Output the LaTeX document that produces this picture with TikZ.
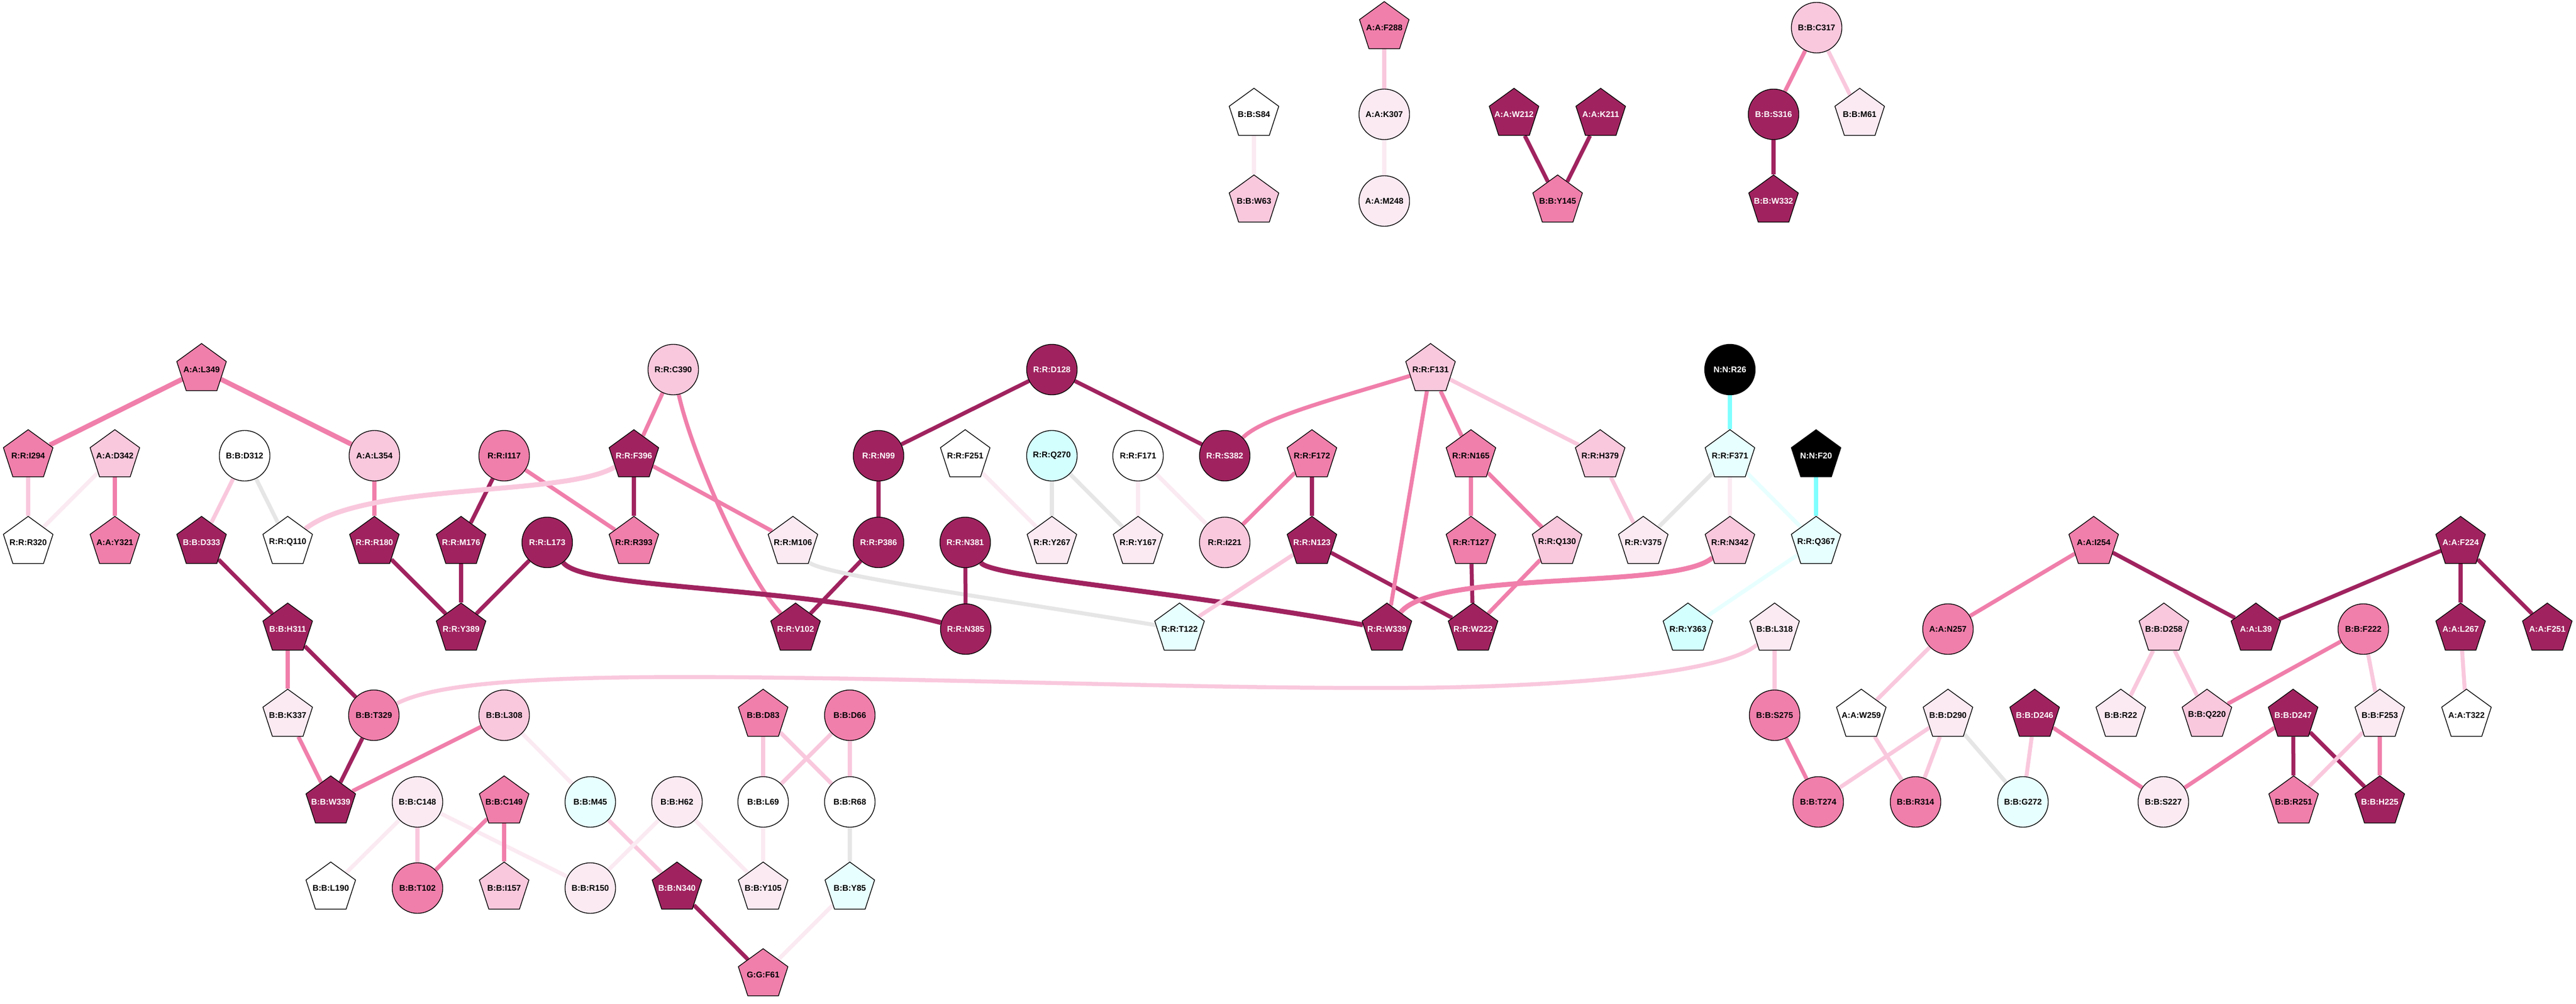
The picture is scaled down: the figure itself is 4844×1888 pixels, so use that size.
\documentclass[tikz,border=0pt]{standalone}
\usepackage{fontspec}
\setmainfont{Liberation Sans}
\usetikzlibrary{shapes.geometric}
\pgfdeclarelayer{bg}
\pgfsetlayers{bg,main}
\definecolor{cD}{HTML}{A0235F}
\definecolor{cM}{HTML}{F07FAB}
\definecolor{cL}{HTML}{F9C8DD}
\definecolor{cV}{HTML}{FBEAF2}
\definecolor{cC}{HTML}{D4FFFF}
\definecolor{cCV}{HTML}{E8FFFF}
\definecolor{cG}{HTML}{E6E6E6}
\definecolor{cCy}{HTML}{80FFFF}
\newcommand{\lbx}[1]{\makebox[0pt]{#1}}
\tikzset{
  nd/.style={draw=black, line width=0.7pt, inner sep=0pt, font=\bfseries\fontsize{7.8}{8}\selectfont, text=black},
  pent/.style={nd, regular polygon, regular polygon sides=5, minimum size=49pt},
  circ/.style={nd, circle, minimum size=47.5pt},
  fD/.style={fill=cD, text=white},
  fM/.style={fill=cM},
  fL/.style={fill=cL},
  fV/.style={fill=cV},
  fW/.style={fill=white},
  fC/.style={fill=cC},
  fCV/.style={fill=cCV},
  fK/.style={fill=black, text=white},
  ed/.style={line width=3.75pt},
  eD/.style={ed, draw=cD},
  eM/.style={ed, draw=cM},
  eL/.style={ed, draw=cL},
  eV/.style={ed, draw=cV},
  eG/.style={ed, draw=cG},
  eCy/.style={ed, draw=cCy},
  eCV/.style={ed, draw=cCV},
  wide/.style={line width=4.6pt}
}
\begin{document}
\begin{tikzpicture}[x=0.5pt, y=-0.5pt]
\useasboundingbox (0,0) rectangle (4844,1888);
% top group
\node[pent,fM]  (AF288) at (2603,52)  {\lbx{A:A:F288}};
\node[circ,fL]  (BC317) at (3416,52)  {\lbx{B:B:C317}};
\node[pent,fW]  (BS84)  at (2358,215) {\lbx{B:B:S84}};
\node[circ,fV]  (AK307) at (2603,215) {\lbx{A:A:K307}};
\node[pent,fD]  (AW212) at (2847,215) {\lbx{A:A:W212}};
\node[pent,fD]  (AK211) at (3010,215) {\lbx{A:A:K211}};
\node[circ,fD]  (BS316) at (3335,215) {\lbx{B:B:S316}};
\node[pent,fV]  (BM61)  at (3497,215) {\lbx{B:B:M61}};
\node[pent,fL]  (BW63)  at (2358,378) {\lbx{B:B:W63}};
\node[circ,fV]  (AM248) at (2603,378) {\lbx{A:A:M248}};
\node[pent,fM]  (BY145) at (2929,378) {\lbx{B:B:Y145}};
\node[pent,fD]  (BW332) at (3335,378) {\lbx{B:B:W332}};
% row 695
\node[pent,fM]  (AL349) at (379,695)  {\lbx{A:A:L349}};
\node[circ,fL]  (RC390) at (1266,695) {\lbx{R:R:C390}};
\node[circ,fD]  (RD128) at (1978,695) {\lbx{R:R:D128}};
\node[pent,fL]  (RF131) at (2690,695) {\lbx{R:R:F131}};
\node[circ,fK]  (NR26)  at (3253,695) {\lbx{N:N:R26}};
% row 857
\node[pent,fM]  (RI294) at (53,857)   {\lbx{R:R:I294}};
\node[pent,fL]  (AD342) at (216,857)  {\lbx{A:A:D342}};
\node[circ,fW]  (BD312) at (460,857)  {\lbx{B:B:D312}};
\node[circ,fL]  (AL354) at (704,857)  {\lbx{A:A:L354}};
\node[circ,fM]  (RI117) at (948,857)  {\lbx{R:R:I117}};
\node[pent,fD]  (RF396) at (1192,857) {\lbx{R:R:F396}};
\node[circ,fD]  (RN99)  at (1652,857) {\lbx{R:R:N99}};
\node[pent,fW]  (RF251) at (1815,857) {\lbx{R:R:F251}};
\node[circ,fC]  (RQ270) at (1978,857) {\lbx{R:R:Q270}};
\node[circ,fW]  (RF171) at (2140,857) {\lbx{R:R:F171}};
\node[circ,fD]  (RS382) at (2303,857) {\lbx{R:R:S382}};
\node[pent,fM]  (RF172) at (2467,857) {\lbx{R:R:F172}};
\node[pent,fM]  (RN165) at (2766,857) {\lbx{R:R:N165}};
\node[pent,fL]  (RH379) at (3009,857) {\lbx{R:R:H379}};
\node[pent,fCV] (RF371) at (3253,857) {\lbx{R:R:F371}};
\node[pent,fK]  (NF20)  at (3415,857) {\lbx{N:N:F20}};
% row 1020
\node[pent,fW]  (RR320) at (53,1020)   {\lbx{R:R:R320}};
\node[pent,fM]  (AY321) at (216,1020)  {\lbx{A:A:Y321}};
\node[pent,fD]  (BD333) at (379,1020)  {\lbx{B:B:D333}};
\node[pent,fW]  (RQ110) at (541,1020)  {\lbx{R:R:Q110}};
\node[pent,fD]  (RR180) at (704,1020)  {\lbx{R:R:R180}};
\node[pent,fD]  (RM176) at (867,1020)  {\lbx{R:R:M176}};
\node[circ,fD]  (RL173) at (1029,1020) {\lbx{R:R:L173}};
\node[pent,fM]  (RR393) at (1192,1020) {\lbx{R:R:R393}};
\node[pent,fV]  (RM106) at (1491,1020) {\lbx{R:R:M106}};
\node[circ,fD]  (RP386) at (1652,1020) {\lbx{R:R:P386}};
\node[circ,fD]  (RN381) at (1815,1020) {\lbx{R:R:N381}};
\node[pent,fV]  (RY267) at (1978,1020) {\lbx{R:R:Y267}};
\node[pent,fV]  (RY167) at (2140,1020) {\lbx{R:R:Y167}};
\node[circ,fL]  (RI221) at (2303,1020) {\lbx{R:R:I221}};
\node[pent,fD]  (RN123) at (2467,1020) {\lbx{R:R:N123}};
\node[pent,fM]  (RT127) at (2766,1020) {\lbx{R:R:T127}};
\node[pent,fL]  (RQ130) at (2928,1020) {\lbx{R:R:Q130}};
\node[pent,fV]  (RV375) at (3090,1020) {\lbx{R:R:V375}};
\node[pent,fL]  (RN342) at (3253,1020) {\lbx{R:R:N342}};
\node[pent,fCV] (RQ367) at (3415,1020) {\lbx{R:R:Q367}};
\node[pent,fM]  (AI254) at (3937,1020) {\lbx{A:A:I254}};
\node[pent,fD]  (AF224) at (4627,1020) {\lbx{A:A:F224}};
% row 1183
\node[pent,fD]  (BH311) at (541,1183)  {\lbx{B:B:H311}};
\node[pent,fD]  (RY389) at (867,1183)  {\lbx{R:R:Y389}};
\node[pent,fD]  (RV102) at (1496,1183) {\lbx{R:R:V102}};
\node[circ,fD]  (RN385) at (1816,1183) {\lbx{R:R:N385}};
\node[pent,fCV] (RT122) at (2218,1183) {\lbx{R:R:T122}};
\node[pent,fD]  (RW339) at (2608,1183) {\lbx{R:R:W339}};
\node[pent,fD]  (RW222) at (2770,1183) {\lbx{R:R:W222}};
\node[pent,fC]  (RY363) at (3174,1183) {\lbx{R:R:Y363}};
\node[pent,fV]  (BL318) at (3337,1183) {\lbx{B:B:L318}};
\node[circ,fM]  (AN257) at (3663,1183) {\lbx{A:A:N257}};
\node[pent,fL]  (BD258) at (4069,1183) {\lbx{B:B:D258}};
\node[pent,fD]  (AL39)  at (4242,1183) {\lbx{A:A:L39}};
\node[circ,fM]  (BF222) at (4444,1183) {\lbx{B:B:F222}};
\node[pent,fD]  (AL267) at (4627,1183) {\lbx{A:A:L267}};
\node[pent,fD]  (AF251) at (4790,1183) {\lbx{A:A:F251}};
% row 1345
\node[pent,fV]  (BK337) at (541,1345)  {\lbx{B:B:K337}};
\node[circ,fM]  (BT329) at (703,1345)  {\lbx{B:B:T329}};
\node[circ,fL]  (BL308) at (948,1345)  {\lbx{B:B:L308}};
\node[pent,fM]  (BD83)  at (1435,1345) {\lbx{B:B:D83}};
\node[circ,fM]  (BD66)  at (1598,1345) {\lbx{B:B:D66}};
\node[circ,fM]  (BS275) at (3337,1345) {\lbx{B:B:S275}};
\node[pent,fW]  (AW259) at (3500,1345) {\lbx{A:A:W259}};
\node[pent,fV]  (BD290) at (3663,1345) {\lbx{B:B:D290}};
\node[pent,fD]  (BD246) at (3826,1345) {\lbx{B:B:D246}};
\node[pent,fV]  (BR22)  at (3988,1345) {\lbx{B:B:R22}};
\node[pent,fL]  (BQ220) at (4150,1345) {\lbx{B:B:Q220}};
\node[pent,fD]  (BD247) at (4312,1345) {\lbx{B:B:D247}};
\node[pent,fV]  (BF253) at (4475,1345) {\lbx{B:B:F253}};
\node[pent,fW]  (AT322) at (4638,1345) {\lbx{A:A:T322}};
% row 1508
\node[pent,fD]  (BW339) at (622,1508)  {\lbx{B:B:W339}};
\node[circ,fV]  (BC148) at (785,1508)  {\lbx{B:B:C148}};
\node[pent,fM]  (BC149) at (948,1508)  {\lbx{B:B:C149}};
\node[circ,fCV] (BM45)  at (1110,1508) {\lbx{B:B:M45}};
\node[circ,fV]  (BH62)  at (1273,1508) {\lbx{B:B:H62}};
\node[circ,fW]  (BL69)  at (1435,1508) {\lbx{B:B:L69}};
\node[circ,fW]  (BR68)  at (1598,1508) {\lbx{B:B:R68}};
\node[circ,fM]  (BT274) at (3419,1508) {\lbx{B:B:T274}};
\node[circ,fM]  (BR314) at (3602,1508) {\lbx{B:B:R314}};
\node[circ,fCV] (BG272) at (3804,1508) {\lbx{B:B:G272}};
\node[circ,fV]  (BS227) at (4068,1508) {\lbx{B:B:S227}};
\node[pent,fM]  (BR251) at (4313,1508) {\lbx{B:B:R251}};
\node[pent,fD]  (BH225) at (4475,1508) {\lbx{B:B:H225}};
% row 1670
\node[pent,fW]  (BL190) at (622,1670)  {\lbx{B:B:L190}};
\node[circ,fM]  (BT102) at (785,1670)  {\lbx{B:B:T102}};
\node[pent,fL]  (BI157) at (948,1670)  {\lbx{B:B:I157}};
\node[circ,fV]  (BR150) at (1110,1670) {\lbx{B:B:R150}};
\node[pent,fD]  (BN340) at (1273,1670) {\lbx{B:B:N340}};
\node[pent,fV]  (BY105) at (1435,1670) {\lbx{B:B:Y105}};
\node[pent,fCV] (BY85)  at (1598,1670) {\lbx{B:B:Y85}};
% row 1833
\node[pent,fM]  (GF61)  at (1435,1833) {\lbx{G:G:F61}};

\begin{pgfonlayer}{bg}
% top
\draw[eL] (AF288) -- (AK307);
\draw[eV] (AK307) -- (AM248);
\draw[eV] (BS84) -- (BW63);
\draw[eD] (AW212) -- (BY145);
\draw[eD] (AK211) -- (BY145);
\draw[eM] (BC317) -- (BS316);
\draw[eL] (BC317) -- (BM61);
\draw[eD] (BS316) -- (BW332);
% left middle
\draw[eM,wide] (AL349) -- (RI294);
\draw[eM,wide] (AL349) -- (AL354);
\draw[eL] (RI294) -- (RR320);
\draw[eV] (AD342) -- (RR320);
\draw[eM] (AD342) -- (AY321);
\draw[eL] (BD312) -- (BD333);
\draw[eG] (BD312) -- (RQ110);
\draw[eM] (AL354) -- (RR180);
\draw[eD] (RI117) -- (RM176);
\draw[eM] (RI117) -- (RR393);
\draw[eL,wide] (RF396) .. controls (1060,935) and (690,905) .. (RQ110);
\draw[eD] (RF396) -- (RR393);
\draw[eM] (RC390) -- (RF396);
\draw[eM] (RC390) .. controls (1300,850) and (1400,1080) .. (RV102);
\draw[eM] (RF396) -- (RM106);
\draw[eD] (BD333) -- (BH311);
\draw[eD] (RR180) -- (RY389);
\draw[eD] (RM176) -- (RY389);
\draw[eD] (RL173) -- (RY389);
\draw[eD,wide] (RL173) .. controls (1100,1110) and (1500,1100) .. (RN385);
% centre
\draw[eD] (RD128) -- (RN99);
\draw[eD] (RD128) -- (RS382);
\draw[eD] (RN99) -- (RP386);
\draw[eD] (RP386) -- (RV102);
\draw[eG] (RM106) .. controls (1540,1080) and (1900,1130) .. (RT122);
\draw[eD] (RN381) -- (RN385);
\draw[eD,wide] (RN381) .. controls (1865,1085) and (2200,1110) .. (RW339);
\draw[eV] (RF251) -- (RY267);
\draw[eG] (RQ270) -- (RY267);
\draw[eG] (RQ270) -- (RY167);
\draw[eV] (RF171) -- (RY167);
\draw[eV] (RF171) -- (RI221);
\draw[eM] (RS382) .. controls (2375,785) and (2510,750) .. (RF131);
\draw[eM] (RF172) -- (RI221);
\draw[eD] (RF172) -- (RN123);
\draw[eL] (RN123) -- (RT122);
\draw[eD] (RN123) -- (RW222);
\draw[eM] (RF131) -- (RW339);
\draw[eM] (RF131) -- (RN165);
\draw[eL] (RF131) -- (RH379);
\draw[eM] (RN165) -- (RT127);
\draw[eM] (RN165) -- (RQ130);
\draw[eD] (RT127) -- (RW222);
\draw[eM] (RQ130) -- (RW222);
\draw[eL] (RH379) -- (RV375);
\draw[eG] (RF371) -- (RV375);
\draw[eV] (RF371) -- (RN342);
\draw[eCV] (RF371) -- (RQ367);
\draw[eCy] (NR26) -- (RF371);
\draw[eCy] (NF20) -- (RQ367);
\draw[eM,wide] (RN342) .. controls (3150,1110) and (2700,1070) .. (RW339);
\draw[eCV] (RQ367) -- (RY363);
% lower left
\draw[eM] (BH311) -- (BK337);
\draw[eD] (BH311) -- (BT329);
\draw[eM] (BK337) -- (BW339);
\draw[eD] (BT329) -- (BW339);
\draw[eM] (BL308) -- (BW339);
\draw[eL] (BT329) .. controls (820,1285) and (1000,1273) .. (1300,1273)
   .. controls (1800,1275) and (2300,1298) .. (2700,1293)
   .. controls (3000,1288) and (3250,1260) .. (BL318);
\draw[eV] (BL308) -- (BM45);
\draw[eV] (BC148) -- (BL190);
\draw[eL] (BC148) -- (BT102);
\draw[eV] (BC148) -- (BR150);
\draw[eM] (BC149) -- (BT102);
\draw[eM] (BC149) -- (BI157);
\draw[eL] (BM45) -- (BN340);
\draw[eV] (BH62) -- (BR150);
\draw[eV] (BH62) -- (BY105);
\draw[eD] (BN340) -- (GF61);
\draw[eL] (BD83) -- (BL69);
\draw[eL] (BD83) -- (BR68);
\draw[eL] (BD66) -- (BL69);
\draw[eL] (BD66) -- (BR68);
\draw[eV] (BL69) -- (BY105);
\draw[eG] (BR68) -- (BY85);
\draw[eV] (BY85) -- (GF61);
% right
\draw[eL] (BL318) -- (BS275);
\draw[eM] (BS275) -- (BT274);
\draw[eL] (AN257) -- (AW259);
\draw[eL] (AW259) -- (BR314);
\draw[eL] (BD290) -- (BT274);
\draw[eL] (BD290) -- (BR314);
\draw[eG] (BD290) -- (BG272);
\draw[eL] (BD246) -- (BG272);
\draw[eM] (BD246) -- (BS227);
\draw[eM] (AI254) -- (AN257);
\draw[eD] (AI254) -- (AL39);
\draw[eD] (AF224) -- (AL39);
\draw[eD] (AF224) -- (AL267);
\draw[eD] (AF224) -- (AF251);
\draw[eL] (BD258) -- (BR22);
\draw[eL] (BD258) -- (BQ220);
\draw[eM] (BF222) -- (BQ220);
\draw[eL] (BF222) -- (BF253);
\draw[eL] (AL267) -- (AT322);
\draw[eM] (BD247) -- (BS227);
\draw[eD] (BD247) -- (BR251);
\draw[eD] (BD247) -- (BH225);
\draw[eL] (BF253) -- (BR251);
\draw[eM] (BF253) -- (BH225);
\end{pgfonlayer}
\end{tikzpicture}
\end{document}
